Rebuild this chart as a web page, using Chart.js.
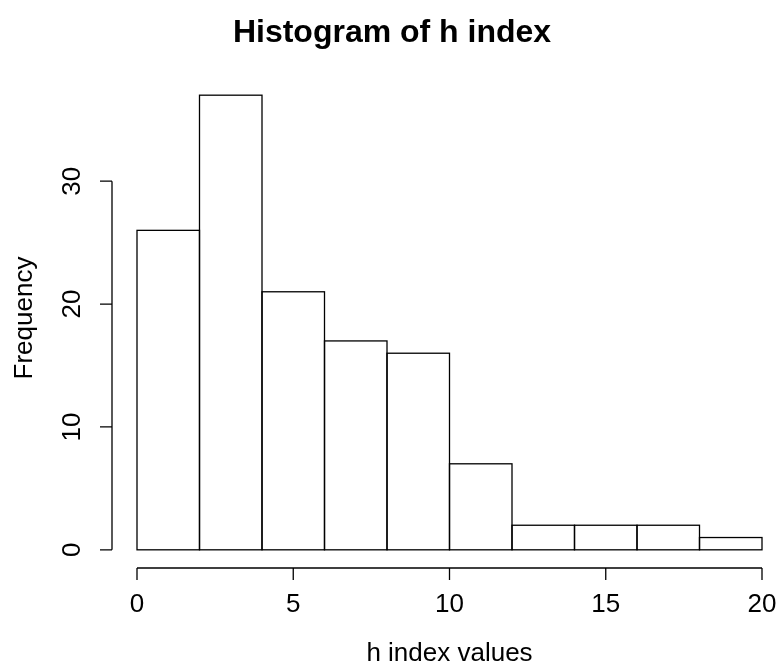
<!DOCTYPE html>
<html>
<head>
<meta charset="utf-8">
<script src="https://cdn.jsdelivr.net/npm/chart.js@4/dist/chart.umd.min.js"></script>
<style>
  html, body { margin: 0; padding: 0; background: #fff; }
  canvas { display: block; }
</style>
</head>
<body>
<canvas id="chart-hist" width="777" height="670"></canvas>
<script>
// bin edges and counts
const binStarts = [0, 2, 4, 6, 8, 10, 12, 14, 16, 18];
const binWidth = 2;
const counts = [26, 37, 21, 17, 16, 7, 2, 2, 2, 1];
const xTicks = [0, 5, 10, 15, 20];
const yTicks = [0, 10, 20, 30];

const titleText = "Histogram of h index";
const xLabel = "h index values";
const yLabel = "Frequency";
const fontFamily = "'Liberation Sans', Arial, Helvetica, sans-serif";

// R-style axes, outlines and text drawn using the chart's scales
const rStylePlugin = {
  id: "rStyle",
  afterDatasetsDraw(chart) {
    const ctx = chart.ctx;
    const area = chart.chartArea;
    const xs = chart.scales.x;
    const ys = chart.scales.y;
    ctx.save();
    ctx.strokeStyle = "#000";
    ctx.lineWidth = 1.3;

    // bar outlines
    const meta = chart.getDatasetMeta(0);
    meta.data.forEach((bar) => {
      const left = bar.x - bar.width / 2;
      ctx.strokeRect(left, bar.y, bar.width, bar.base - bar.y);
    });

    // y axis
    const yAxisX = area.left;
    ctx.beginPath();
    ctx.moveTo(yAxisX, ys.getPixelForValue(yTicks[0]));
    ctx.lineTo(yAxisX, ys.getPixelForValue(yTicks[yTicks.length - 1]));
    yTicks.forEach((t) => {
      const py = ys.getPixelForValue(t);
      ctx.moveTo(yAxisX, py);
      ctx.lineTo(yAxisX - 12, py);
    });
    // x axis
    const xAxisY = area.bottom;
    ctx.moveTo(xs.getPixelForValue(xTicks[0]), xAxisY);
    ctx.lineTo(xs.getPixelForValue(xTicks[xTicks.length - 1]), xAxisY);
    xTicks.forEach((t) => {
      const px = xs.getPixelForValue(t);
      ctx.moveTo(px, xAxisY);
      ctx.lineTo(px, xAxisY + 12);
    });
    ctx.stroke();

    ctx.fillStyle = "#000";
    ctx.textAlign = "center";
    ctx.textBaseline = "middle";
    ctx.font = "26px " + fontFamily;
    xTicks.forEach((t) => {
      ctx.fillText(String(t), xs.getPixelForValue(t), xAxisY + 37);
    });
    yTicks.forEach((t) => {
      ctx.save();
      ctx.translate(yAxisX - 39, ys.getPixelForValue(t));
      ctx.rotate(-Math.PI / 2);
      ctx.fillText(String(t), 0, 0);
      ctx.restore();
    });

    // axis titles
    ctx.fillText(xLabel, (area.left + 787) / 2, 654);
    ctx.save();
    ctx.translate(25, 318);
    ctx.rotate(-Math.PI / 2);
    ctx.fillText(yLabel, 0, 0);
    ctx.restore();

    // main title
    ctx.font = "bold 32px " + fontFamily;
    ctx.fillText(titleText, 392, 33);
    ctx.restore();
  },
};

new Chart(document.getElementById("chart-hist").getContext("2d"), {
  type: "bar",
  data: {
    datasets: [
      {
        label: "Frequency",
        data: binStarts.map((s, i) => ({ x: s + binWidth / 2, y: counts[i] })),
        backgroundColor: "#fff",
        borderWidth: 0,
        barPercentage: 1,
        categoryPercentage: 1,
      },
    ],
  },
  options: {
    responsive: false,
    animation: false,
    devicePixelRatio: 1,
    layout: { padding: { left: 112, top: 77, right: 0, bottom: 102 } },
    scales: {
      x: {
        type: "linear",
        offset: false,
        min: -0.8,
        max: 20.48,
        display: false,
        ticks: { stepSize: 5, includeBounds: false },
      },
      y: {
        min: -1.48,
        max: 38.48,
        display: false,
        ticks: { stepSize: 10, includeBounds: false },
      },
    },
    plugins: {
      legend: { display: false },
      tooltip: { enabled: false },
      title: { display: false },
    },
  },
  plugins: [rStylePlugin],
});
</script>
</body>
</html>
